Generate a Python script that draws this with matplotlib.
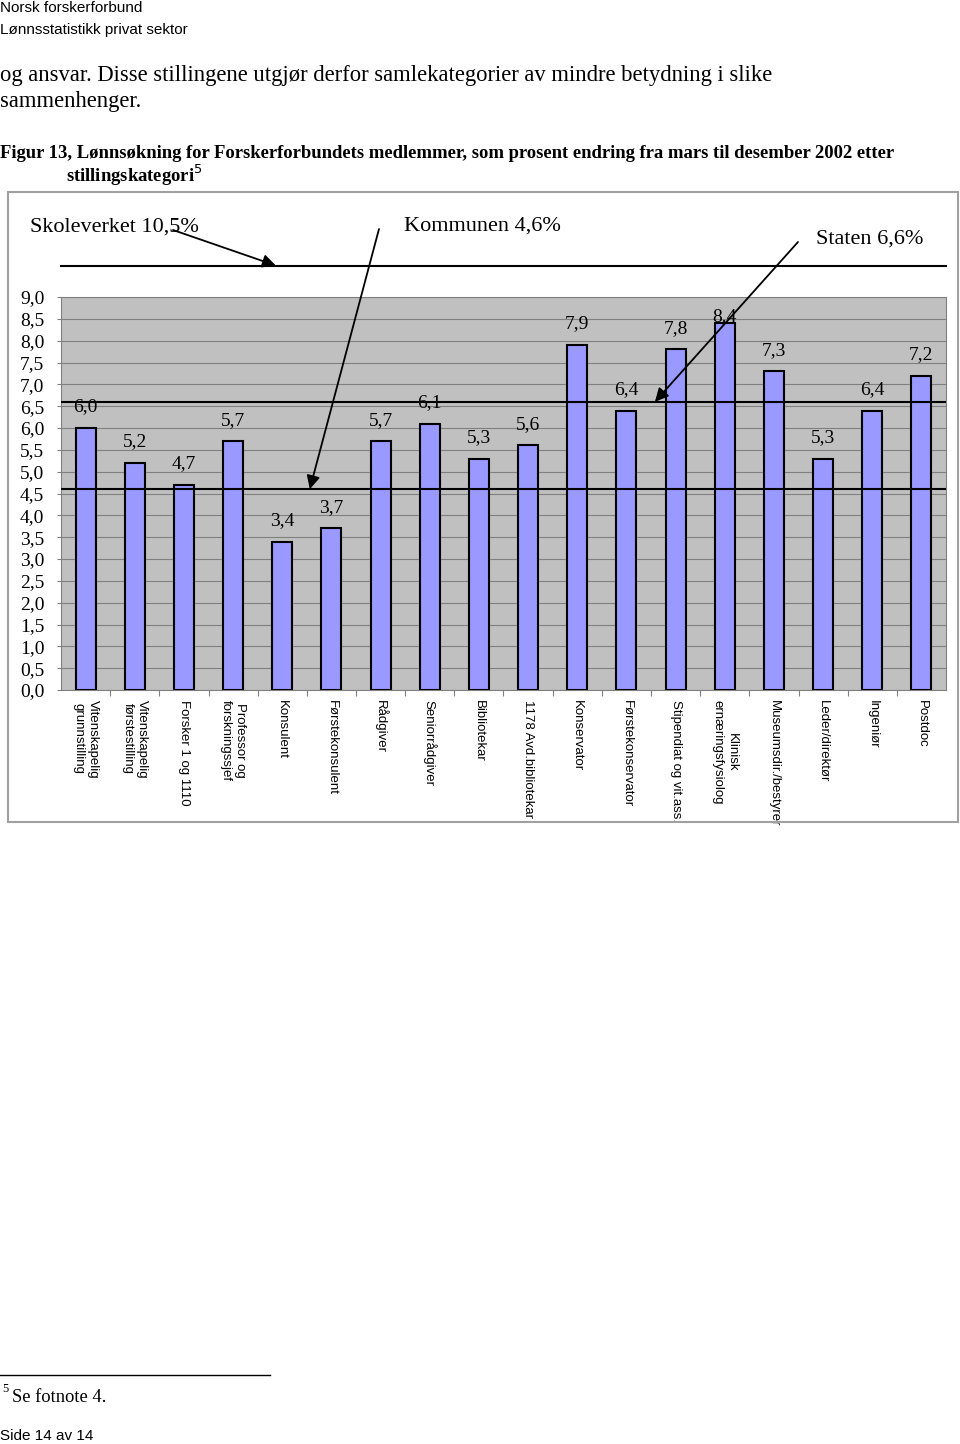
import matplotlib.pyplot as plt

# data
categories = ["Vitenskapelig\ngrunnstilling", "Vitenskapelig\nførstestilling", "Forsker 1 og 1110",
              "Professor og\nforskningssjef", "Konsulent", "Førstekonsulent", "Rådgiver",
              "Seniorrådgiver", "Bibliotekar", "1178 Avd.bibliotekar", "Konservator",
              "Førstekonservator", "Stipendiat og vit.ass.", "Klinisk\nernæringsfysiolog",
              "Museumsdir./bestyrer", "Leder/direktør", "Ingeniør", "Postdoc"]
values = [6.0, 5.2, 4.7, 5.7, 3.4, 3.7, 5.7, 6.1, 5.3, 5.6, 7.9, 6.4, 7.8, 8.4, 7.3, 5.3, 6.4, 7.2]
y_ticks = [0.0, 0.5, 1.0, 1.5, 2.0, 2.5, 3.0, 3.5, 4.0, 4.5, 5.0, 5.5, 6.0, 6.5, 7.0, 7.5, 8.0, 8.5, 9.0]

ref_names = ["Skoleverket", "Kommunen", "Staten"]
ref_values = [10.5, 4.6, 6.6]

W, H = 960, 1444
serif = ['Liberation Serif', 'DejaVu Serif']
sans = ['Liberation Sans', 'DejaVu Sans']
narrow = ['Liberation Sans Narrow', 'Liberation Sans', 'DejaVu Sans']


def fp(x, y):
    # image pixel (top-left origin) -> figure pixels
    return (x, H - y)


fig = plt.figure(figsize=(9.6, 14.44), dpi=100)

# page text
fig.text(0, 1 - 8 / H, "Norsk forskerforbund", family=narrow, fontsize=11, va='center')
fig.text(0, 1 - 30 / H, "Lønnsstatistikk privat sektor", family=narrow, fontsize=11, va='center')
fig.text(0, 1 - 75 / H, "og ansvar. Disse stillingene utgjør derfor samlekategorier av mindre betydning i slike",
         family=serif, fontsize=16.3, va='center')
fig.text(0, 1 - 101 / H, "sammenhenger.", family=serif, fontsize=16.3, va='center')
fig.text(0, 1 - 153 / H, "Figur 13, Lønnsøkning for Forskerforbundets medlemmer, som prosent endring fra mars til desember 2002 etter",
         family=serif, fontsize=13.45, fontweight='bold', va='center')
fig.text(66 / W, 1 - 175 / H, r"stillingskategori$^{5}$", family=serif, fontsize=13.45, fontweight='bold', va='center')

# chart frame
frame = plt.Rectangle((8 / W, 1 - 822 / H), 950 / W, 630 / H, transform=fig.transFigure,
                      fill=False, edgecolor='#a0a0a0', lw=1.5)
fig.add_artist(frame)

ax = fig.add_axes([61 / W, 1 - 690 / H, 885 / W, 393 / H])
ax.set_facecolor('#c0c0c0')
x = list(range(len(values)))
ax.bar(x, values, width=0.41, color='#9999ff', edgecolor='black', linewidth=1.5, zorder=3)
ax.set_xlim(-0.5, len(values) - 0.5)
ax.set_ylim(0, 9)
ax.set_yticks(y_ticks)
ax.set_yticklabels([f"{v:.1f}".replace('.', ',') for v in y_ticks], family=serif, fontsize=14)
ax.yaxis.grid(True, color='#808080', lw=0.8, zorder=0)
ax.set_xticks([i + 0.5 for i in range(len(values) - 1)])
ax.set_xticklabels([])
ax.tick_params(axis='x', length=4, color='#808080')
ax.tick_params(axis='y', length=3, color='#808080', pad=9)
for s in ax.spines.values():
    s.set_color('#808080')

# value labels
for i, v in enumerate(values):
    off = 0.16 if v > 8.2 else 0.48
    ax.text(i, v + off, f"{v:.1f}".replace('.', ','), ha='center', va='center', family=serif, fontsize=14)

# category labels
for i, c in enumerate(categories):
    ax.text(i, -0.22, c, rotation=-90, ha='center', va='top', multialignment='center',
            family=sans, fontsize=9.5)

# reference lines
ax.axhline(ref_values[1], color='black', lw=1.5, zorder=4)
ax.axhline(ref_values[2], color='black', lw=1.5, zorder=4)
# Skoleverket 10,5 is off scale, drawn above the plot area
sk_y = 9.72
ax.plot([-0.5, len(values) - 0.5], [sk_y, sk_y], color='black', lw=1.5, clip_on=False)

fig.text(30 / W, 1 - 227 / H, f"{ref_names[0]} {ref_values[0]:.1f}%".replace('.', ','),
         family=serif, fontsize=16, va='center')
fig.text(404 / W, 1 - 226 / H, f"{ref_names[1]} {ref_values[1]:.1f}%".replace('.', ','),
         family=serif, fontsize=16, va='center')
fig.text(816 / W, 1 - 239 / H, f"{ref_names[2]} {ref_values[2]:.1f}%".replace('.', ','),
         family=serif, fontsize=16, va='center')

arrow = dict(arrowstyle='-|>', color='black', lw=1.3, mutation_scale=20, shrinkA=0, shrinkB=0)
ax.annotate('', xy=(3.87, sk_y), xycoords='data', xytext=fp(173, 230), textcoords='figure pixels',
            arrowprops=arrow, annotation_clip=False)
ax.annotate('', xy=(4.56, ref_values[1]), xycoords='data', xytext=fp(379, 229), textcoords='figure pixels',
            arrowprops=arrow, annotation_clip=False)
ax.annotate('', xy=(11.58, ref_values[2]), xycoords='data', xytext=fp(798, 242), textcoords='figure pixels',
            arrowprops=arrow, annotation_clip=False)

# footnote
fig.add_artist(plt.Line2D([0, 270 / W], [1 - 1375 / H] * 2, transform=fig.transFigure, color='black', lw=1))
fig.text(2 / W, 1 - 1389 / H, "5", family=serif, fontsize=9, va='center')
fig.text(12 / W, 1 - 1397 / H, "Se fotnote 4.", family=serif, fontsize=13.3, va='center')
fig.text(0, 1 - 1436 / H, "Side 14 av 14", family=sans, fontsize=11, va='center')

plt.savefig("out.png", dpi=100)
